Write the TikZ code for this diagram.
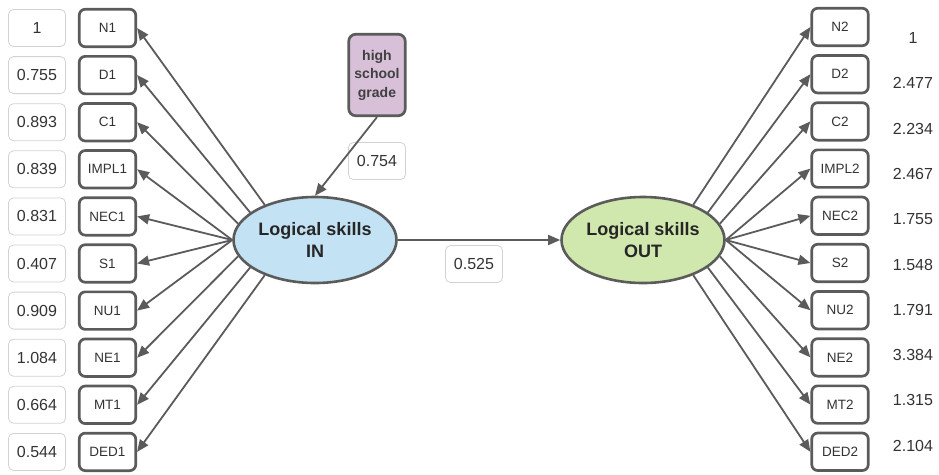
\documentclass[tikz,border=0pt]{standalone}
\usepackage{fontspec}
\setmainfont{Liberation Sans}
\usetikzlibrary{arrows.meta,shapes.geometric}
\definecolor{edgegray}{HTML}{5B5B5B}
\definecolor{boxgray}{HTML}{D2D2D2}
\definecolor{textgray}{HTML}{333333}
\definecolor{infill}{HTML}{C3E2F4}
\definecolor{outfill}{HTML}{D0E8AE}
\definecolor{gradefill}{HTML}{D7C0D8}
\begin{document}
\begin{tikzpicture}[x=1pt,y=-1pt,
  valbox/.style={draw=boxgray, line width=0.8pt, rounded corners=5pt,
    minimum width=57pt, minimum height=37pt, inner sep=0pt, text=textgray,
    font=\fontsize{16}{18}\selectfont},
  plainval/.style={inner sep=0pt, text=textgray, font=\fontsize{16}{18}\selectfont},
  varbox/.style={draw=edgegray, line width=2.7pt, rounded corners=6pt, fill=white,
    minimum width=56.5pt, minimum height=37.5pt, inner sep=0pt, text=textgray,
    font=\fontsize{13.5}{15}\selectfont},
  latent/.style={ellipse, draw=edgegray, line width=2.6pt, inner sep=0pt,
    minimum width=163pt, minimum height=86pt, align=center, text=black!85,
    font=\bfseries\fontsize{18}{22}\selectfont},
  grade/.style={draw=edgegray, line width=2.7pt, rounded corners=7pt, fill=gradefill,
    minimum width=56.5pt, minimum height=81.5pt, inner sep=0pt, align=center,
    text=black!75, font=\bfseries\fontsize{14}{18.5}\selectfont},
  load/.style={draw=edgegray, line width=1.8pt, -{Triangle[length=12pt,width=10pt]}}
]
\useasboundingbox (0,0) rectangle (939,474);

% latent variables
\node[latent, fill=infill]  (in)  at (315,240) {Logical skills\\IN};
\node[latent, fill=outfill] (out) at (643,240) {Logical skills\\OUT};

% covariate
\node[grade] (hsg) at (377,75) {high\\school\\grade};
\node[valbox] (w1) at (377,161) {0.754};
\node[valbox] (w2) at (474,264) {0.525};

% indicators and loadings, left block
\foreach \lab/\val [count=\i] in {N1/1, D1/0.755, C1/0.893, IMPL1/0.839, NEC1/0.831,
    S1/0.407, NU1/0.909, NE1/1.084, MT1/0.664, DED1/0.544}{
  \node[valbox] (l\i) at (37,{28+47.1*(\i-1)}) {\val};
  \node[varbox] (a\i) at (107.5,{28+47.1*(\i-1)}) {\lab};
}

% indicators and loadings, right block
\foreach \lab/\val [count=\i] in {N2/1, D2/2.477, C2/2.234, IMPL2/2.467, NEC2/1.755,
    S2/1.548, NU2/1.791, NE2/3.384, MT2/1.315, DED2/2.104}{
  \node[varbox] (b\i) at (840,{27+47.2*(\i-1)}) {\lab};
  \node[plainval] (r\i) at (913,{38+45.3*(\i-1)}) {\val};
}

% structural paths
\draw[load] (hsg.south) -- (in.north);
\draw[load] (in.east) -- (out.west);

% measurement paths
\foreach \ang [count=\i] in {145,157,168,180,180,180,180,192,203,215}
  \draw[load] (in.\ang) -- (a\i.east);
\foreach \ang [count=\i] in {35,23,12,0,0,0,0,-12,-23,-35}
  \draw[load] (out.\ang) -- (b\i.west);
\end{tikzpicture}
\end{document}
